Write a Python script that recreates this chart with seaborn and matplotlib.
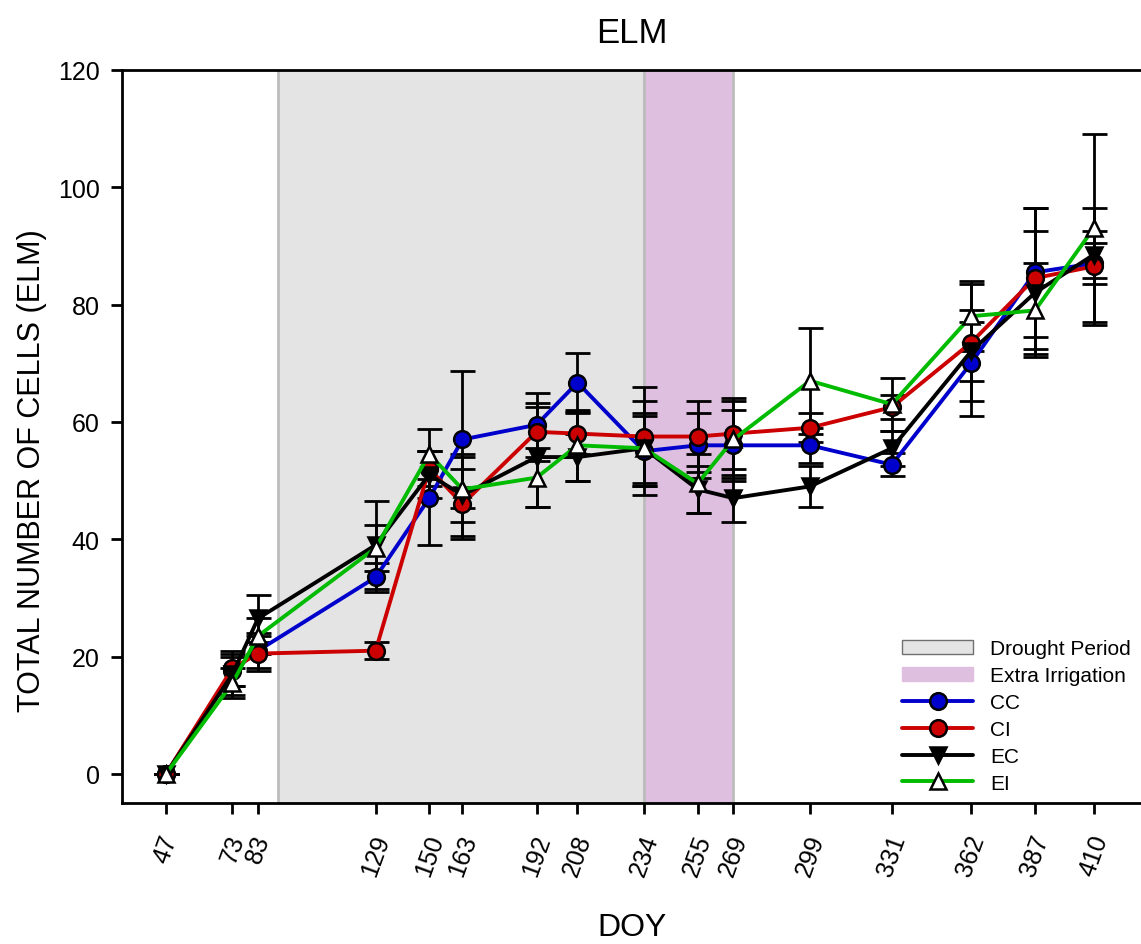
import numpy as np
import pandas as pd
import matplotlib
matplotlib.use("Agg")
import matplotlib.pyplot as plt
import seaborn as sns
from matplotlib.patches import Patch
from matplotlib.lines import Line2D

doy = [47, 73, 83, 129, 150, 163, 192, 208, 234, 255, 269, 299, 331, 362, 387, 410]

cc = [0, 17.5, 21, 33.5, 47, 57, 59.5, 66.7, 55, 56, 56, 56, 52.7, 70, 85.5, 87]
ci = [0, 18, 20.5, 21, 52, 46, 58.3, 58, 57.5, 57.5, 58, 59, 62.5, 73.5, 84.5, 86.5]
ec = [0, 17, 26.5, 39, 51, 47.5, 54, 54, 55.5, 48.5, 47, 49, 55.5, 72, 82, 88.5]
ei = [0, 15.5, 23.5, 38.5, 54.5, 48.5, 50.5, 56, 55.5, 49.5, 57, 67, 63, 78, 79, 93]

cc_err = [0, 2.5, 3, 2.5, 8, 11.6, 5.5, 5, 6, 5.5, 6, 3, 2, 9, 11, 3.5]
ci_err = [0, 3, 3, 1.5, 3, 6, 5, 3.5, 8.5, 6, 6, 2.5, 2, 10, 12, 10]
ec_err = [0, 3.5, 4, 7.5, 4, 7, 8.5, 4, 8, 4, 4, 3.5, 3, 5, 10.5, 4]
ei_err = [0, 2.5, 3, 4, 4.2, 5.5, 5, 6, 6, 5, 6.5, 9, 4.5, 6, 8, 16]

drought = (91, 234)
irrigation = (234, 269)

series = [
    ("CC", cc, cc_err, "#0000cc", "o", "#0000cc"),
    ("CI", ci, ci_err, "#cc0000", "o", "#cc0000"),
    ("EC", ec, ec_err, "#000000", "v", "#000000"),
    ("EI", ei, ei_err, "#00bb00", "^", "#ffffff"),
]

sns.set_style("ticks")
plt.rcParams["font.family"] = ["Liberation Sans", "DejaVu Sans"]
for k in ["text.color", "axes.labelcolor", "xtick.color", "ytick.color", "axes.edgecolor"]:
    plt.rcParams[k] = "black"

fig = plt.figure(figsize=(11.41, 9.45), dpi=100)
ax = fig.add_axes([0.107, 0.149, 0.893, 0.776])

ax.axvspan(*drought, facecolor="#e4e4e4", edgecolor="#bdbdbd", linewidth=2, zorder=0)
ax.axvspan(*irrigation, facecolor="#dfbfdf", edgecolor="#bdbdbd", linewidth=2, zorder=0)

for name, vals, err, col, mk, fc in series:
    ax.errorbar(doy, vals, yerr=err, fmt="none", ecolor="black", elinewidth=2,
                capsize=9, capthick=2, zorder=3)
    sns.lineplot(x=doy, y=vals, ax=ax, color=col, linewidth=2.8, marker=mk,
                 markersize=12, markerfacecolor=fc, markeredgecolor="black",
                 markeredgewidth=1.8, zorder=4)

ax.set_xlim(29.8, 428.5)
ax.set_ylim(-5, 120)
ax.set_xticks(doy)
ax.set_xticklabels([str(d) for d in doy], rotation=70, fontsize=18)
ax.set_yticks(range(0, 121, 20))
ax.tick_params(axis="y", labelsize=18, length=8, width=2, pad=8)
ax.tick_params(axis="x", length=8, width=2, pad=12)

for s in ["left", "bottom", "top"]:
    ax.spines[s].set_linewidth(2)
ax.spines["right"].set_visible(False)

ax.set_title("ELM", fontsize=25, pad=20)
ax.set_xlabel("DOY", fontsize=23, labelpad=24)
ax.set_ylabel("TOTAL NUMBER OF CELLS (ELM)", fontsize=22)
ax.yaxis.set_label_coords(-0.074, 0.455)

handles = [
    Patch(facecolor="#e4e4e4", edgecolor="#707070", label="Drought Period"),
    Patch(facecolor="#dfbfdf", edgecolor="#dfbfdf", label="Extra Irrigation"),
]
for name, vals, err, col, mk, fc in series:
    handles.append(Line2D([0], [0], color=col, linewidth=2.8, marker=mk,
                          markersize=12, markerfacecolor=fc,
                          markeredgecolor="black", markeredgewidth=1.8, label=name))
ax.legend(handles=handles, loc="lower right", bbox_to_anchor=(1.0, 0.0),
          frameon=False, fontsize=15, handlelength=3.4, labelspacing=0.38,
          handletextpad=0.8, borderaxespad=0.1)

fig.savefig("out.png", dpi=100)
